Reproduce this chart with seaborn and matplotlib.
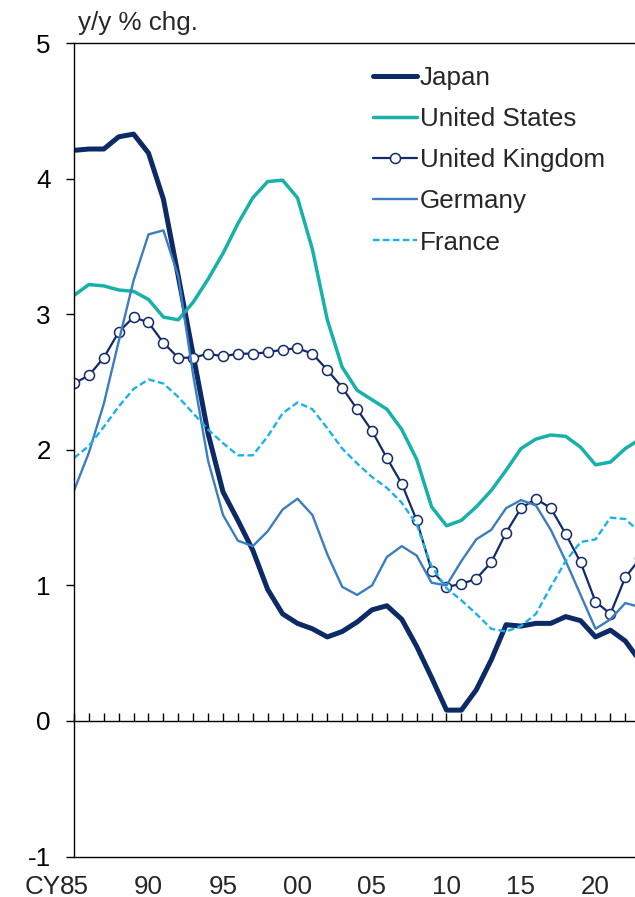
import matplotlib
matplotlib.use("Agg")
import matplotlib.pyplot as plt
import seaborn as sns
import pandas as pd
import numpy as np

years = list(range(1985, 2024))
japan = [4.21, 4.22, 4.22, 4.31, 4.33, 4.19, 3.85, 3.28, 2.70, 2.12,
         1.69, 1.48, 1.26, 0.97, 0.79, 0.72, 0.68, 0.62, 0.66, 0.73,
         0.82, 0.85, 0.75, 0.55, 0.32, 0.08, 0.08, 0.23, 0.45, 0.71,
         0.70, 0.72, 0.72, 0.77, 0.74, 0.62, 0.67, 0.59, 0.44]
united_states = [3.14, 3.22, 3.21, 3.18, 3.17, 3.11, 2.98, 2.96, 3.09, 3.26,
                 3.45, 3.67, 3.86, 3.98, 3.99, 3.86, 3.48, 2.96, 2.61, 2.44,
                 2.37, 2.30, 2.15, 1.93, 1.58, 1.44, 1.48, 1.58, 1.70, 1.85,
                 2.01, 2.08, 2.11, 2.10, 2.02, 1.89, 1.91, 2.01, 2.08]
united_kingdom = [2.49, 2.55, 2.68, 2.87, 2.98, 2.94, 2.79, 2.68, 2.68, 2.71,
                  2.69, 2.71, 2.71, 2.72, 2.74, 2.75, 2.71, 2.59, 2.46, 2.30,
                  2.14, 1.94, 1.75, 1.48, 1.11, 0.99, 1.01, 1.05, 1.17, 1.39,
                  1.57, 1.64, 1.57, 1.38, 1.17, 0.88, 0.79, 1.06, 1.20]
germany = [1.70, 1.98, 2.34, 2.80, 3.25, 3.59, 3.62, 3.28, 2.55, 1.92,
           1.52, 1.33, 1.29, 1.40, 1.56, 1.64, 1.52, 1.23, 0.99, 0.93,
           1.00, 1.21, 1.29, 1.22, 1.02, 1.00, 1.18, 1.34, 1.41, 1.57,
           1.63, 1.59, 1.41, 1.18, 0.93, 0.68, 0.75, 0.87, 0.84]
france = [1.94, 2.03, 2.17, 2.32, 2.45, 2.52, 2.49, 2.39, 2.27, 2.15,
          2.05, 1.96, 1.96, 2.10, 2.27, 2.35, 2.30, 2.16, 2.01, 1.90,
          1.80, 1.72, 1.61, 1.45, 1.14, 0.98, 0.89, 0.79, 0.68, 0.66,
          0.70, 0.79, 0.99, 1.18, 1.32, 1.34, 1.50, 1.49, 1.39]

label_years = [1985, 1990, 1995, 2000, 2005, 2010, 2015, 2020]
label_texts = ["85", "90", "95", "00", "05", "10", "15", "20"]
y_ticks = [-1, 0, 1, 2, 3, 4, 5]

sns.set_style("white")
plt.rcParams["font.family"] = ["Liberation Sans", "DejaVu Sans"]
FS = 18.7

fig = plt.figure(figsize=(6.35, 8.97), dpi=100)
W, H = 635, 897
ax_left, ax_right_px = 74, 74 + 38.5 * 14.9
ax_top, ax_bot = 43.3, 856.5
ax = fig.add_axes([ax_left / W, 1 - ax_bot / H, (ax_right_px - ax_left) / W, (ax_bot - ax_top) / H])

df = pd.DataFrame({"year": years, "Japan": japan, "United States": united_states,
                   "United Kingdom": united_kingdom, "Germany": germany, "France": france})

sns.lineplot(data=df, x="year", y="Japan", ax=ax, color="#0b2a66", lw=3.6, label="Japan")
sns.lineplot(data=df, x="year", y="United States", ax=ax, color="#17b1aa", lw=2.5, label="United States")
sns.lineplot(data=df, x="year", y="United Kingdom", ax=ax, color="#132a6b", lw=1.6, marker="o",
             markersize=7.2, markerfacecolor="white", markeredgecolor="#132a6b", markeredgewidth=1.1,
             label="United Kingdom")
sns.lineplot(data=df, x="year", y="Germany", ax=ax, color="#3b7dc0", lw=1.7, label="Germany")
sns.lineplot(data=df, x="year", y="France", ax=ax, color="#1ab2ee", lw=1.7, label="France")
ax.lines[-1].set_dashes((2.8, 1.4))

ax.set_xlim(1985, 2023.5)
ax.set_ylim(-1, 5)
ax.set_xlabel("")
ax.set_ylabel("")

# y axis
ax.set_yticks(y_ticks)
ax.set_yticklabels([str(v) for v in y_ticks], fontsize=FS)
ax.tick_params(axis="y", direction="out", length=5.8, width=1.0, pad=11, colors="black", left=True)

# x axis at zero with year ticks pointing up
ax.spines["bottom"].set_position(("data", 0))
ax.set_xticks(years)
ax.tick_params(axis="x", direction="in", length=5.5, width=1.0, labelbottom=False, bottom=True, colors="black")

for s in ["left", "top", "bottom", "right"]:
    ax.spines[s].set_color("black")
    ax.spines[s].set_linewidth(1.0)

sec = ax.secondary_xaxis("bottom")
sec.set_xticks(label_years)
sec.set_xticklabels(label_texts, fontsize=FS)
sec.tick_params(axis="x", length=0, pad=13)
sec.spines["bottom"].set_color("black")
sec.spines["bottom"].set_linewidth(1.0)
ax.annotate("CY", xy=(1985, 0), xycoords=("data", "axes fraction"), xytext=(-9.6, -13),
            textcoords="offset points", ha="right", va="top", fontsize=FS)

fig.text(78 / W, 1 - 23 / H, "y/y % chg.", ha="left", va="center", fontsize=FS)

leg = ax.legend(loc="upper left", bbox_to_anchor=(373 / W, 1 - 66 / H), bbox_transform=fig.transFigure,
                frameon=False, fontsize=FS, handlelength=1.69, handletextpad=0.12,
                labelspacing=0.66, borderpad=0, borderaxespad=0)

fig.savefig("out.png", dpi=100)
